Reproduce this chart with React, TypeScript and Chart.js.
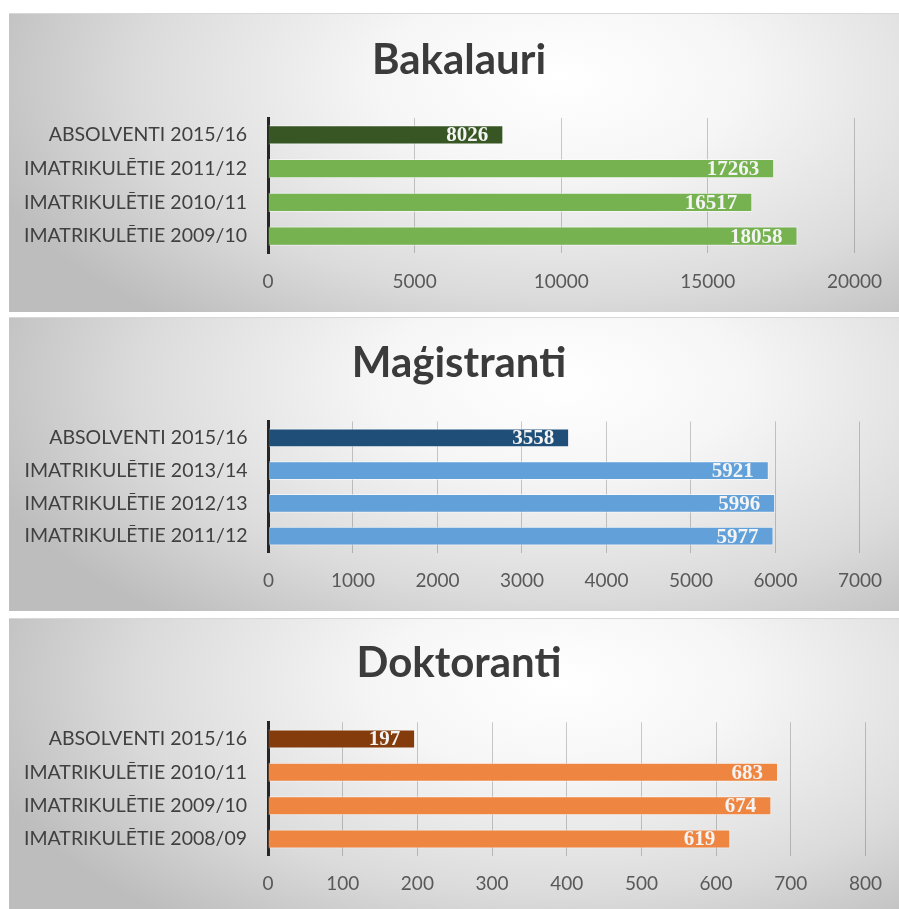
import React, { useEffect, useRef } from "react";
import { Chart, registerables } from "chart.js";

Chart.register(...registerables);

// ---------- data ----------
const bakLabels = ["ABSOLVENTI 2015/16", "IMATRIKULĒTIE 2011/12", "IMATRIKULĒTIE 2010/11", "IMATRIKULĒTIE 2009/10"];
const bakValues = [8026, 17263, 16517, 18058];
const bakTicks = { max: 20000, step: 5000 };

const magLabels = ["ABSOLVENTI 2015/16", "IMATRIKULĒTIE 2013/14", "IMATRIKULĒTIE 2012/13", "IMATRIKULĒTIE 2011/12"];
const magValues = [3558, 5921, 5996, 5977];
const magTicks = { max: 7000, step: 1000 };

const dokLabels = ["ABSOLVENTI 2015/16", "IMATRIKULĒTIE 2010/11", "IMATRIKULĒTIE 2009/10", "IMATRIKULĒTIE 2008/09"];
const dokValues = [197, 683, 674, 619];
const dokTicks = { max: 800, step: 100 };

const titles = ["Bakalauri", "Maģistranti", "Doktoranti"];

// ---------- panel layout ----------
const PANEL_W = 890;

type PanelDef = {
  title: string;
  labels: string[];
  values: number[];
  ticks: { max: number; step: number };
  top: number;
  height: number;
  chartTop: number;
  chartBottom: number;
  yWidth: number;
  padRight: number;
  titleY: number;
  dark: string;
  light: string;
};

const panels: PanelDef[] = [
  {
    title: titles[0], labels: bakLabels, values: bakValues, ticks: bakTicks,
    top: 13, height: 299, chartTop: 105, chartBottom: 240, yWidth: 259, padRight: 43, titleY: 47,
    dark: "#375623", light: "#76b250",
  },
  {
    title: titles[1], labels: magLabels, values: magValues, ticks: magTicks,
    top: 317, height: 294, chartTop: 104.5, chartBottom: 235.5, yWidth: 259.5, padRight: 36, titleY: 46,
    dark: "#1f4e79", light: "#62a0da",
  },
  {
    title: titles[2], labels: dokLabels, values: dokValues, ticks: dokTicks,
    top: 618, height: 291, chartTop: 104.3, chartBottom: 237.7, yWidth: 259, padRight: 33, titleY: 45,
    dark: "#843c0c", light: "#ee8642",
  },
];

function Panel({ def }: { def: PanelDef }) {
  const ref = useRef<HTMLCanvasElement | null>(null);

  useEffect(() => {
    const canvas = ref.current;
    if (!canvas) return;

    const titlePlugin = {
      id: "panelTitle",
      afterDraw(chart: any) {
        const ctx = chart.ctx;
        ctx.save();
        ctx.font = "bold 42px Lato";
        ctx.fillStyle = "#3b3b3b";
        ctx.textAlign = "center";
        ctx.textBaseline = "middle";
        ctx.fillText(def.title, 450, def.titleY);
        ctx.restore();
      },
    };

    const valuePlugin = {
      id: "valueLabels",
      afterDatasetsDraw(chart: any) {
        const ctx = chart.ctx;
        const meta = chart.getDatasetMeta(0);
        ctx.save();
        ctx.font = "bold 21px 'Liberation Serif'";
        ctx.fillStyle = "#f4f4f4";
        ctx.textAlign = "right";
        ctx.textBaseline = "middle";
        meta.data.forEach((bar: any, i: number) => {
          ctx.fillText(String(def.values[i]), bar.x - 15, bar.y + 1);
        });
        ctx.restore();
      },
    };

    const chart = new Chart(canvas, {
      type: "bar",
      data: {
        labels: def.labels,
        datasets: [
          {
            data: def.values,
            backgroundColor: def.values.map((_, i) => (i === 0 ? def.dark : def.light)),
            borderColor: "rgba(255,255,255,0.55)",
            borderWidth: 1,
            categoryPercentage: 1,
            barPercentage: 0.57,
          },
        ],
      },
      options: {
        indexAxis: "y",
        responsive: false,
        animation: false,
        devicePixelRatio: 1,
        layout: { padding: { top: def.chartTop, right: def.padRight, bottom: 0, left: 0 } },
        plugins: {
          legend: { display: false },
          title: { display: false },
          tooltip: { enabled: false },
        },
        scales: {
          x: {
            type: "linear",
            min: 0,
            max: def.ticks.max,
            ticks: {
              stepSize: def.ticks.step,
              autoSkip: false,
              maxRotation: 0,
              padding: 17,
              color: "#595959",
              font: { family: "Lato", size: 19, lineHeight: 1.2 },
              callback: (v: any) => String(v),
            },
            grid: { display: true, color: "rgba(0,0,0,0.2)", lineWidth: 1, drawTicks: false },
            border: { display: false },
            afterFit(scale: any) {
              scale.height = def.height - def.chartBottom;
            },
          },
          y: {
            type: "category",
            ticks: {
              padding: 21,
              color: "#404040",
              font: { family: "Lato", size: 19.5, lineHeight: 1.2 },
              autoSkip: false,
            },
            grid: { display: false, drawTicks: false },
            border: { display: true, color: "#262626", width: 3 },
            afterFit(scale: any) {
              scale.width = def.yWidth;
            },
          },
        },
      } as any,
      plugins: [titlePlugin, valuePlugin],
    });

    return () => chart.destroy();
  }, [def]);

  return (
    <div
      style={{
        position: "absolute",
        left: 9,
        top: def.top,
        width: PANEL_W,
        height: def.height,
        background:
          "radial-gradient(ellipse 68% 105% at 62% 22%, #ffffff 0%, #f6f6f6 30%, #dbdbdb 70%, #bdbdbd 100%)",
        borderTop: "1px solid #d8d8d8",
        boxSizing: "border-box",
        overflow: "hidden",
      }}
    >
      <canvas
        ref={ref}
        width={PANEL_W}
        height={def.height}
        style={{ display: "block", position: "absolute", left: 0, top: -1, width: PANEL_W, height: def.height }}
      />
    </div>
  );
}

export default function App() {
  return (
    <div style={{ position: "fixed", left: 0, top: 0, width: 899, height: 909, background: "#ffffff", overflow: "hidden" }}>
      {panels.map((p) => (
        <Panel key={p.title} def={p} />
      ))}
    </div>
  );
}
